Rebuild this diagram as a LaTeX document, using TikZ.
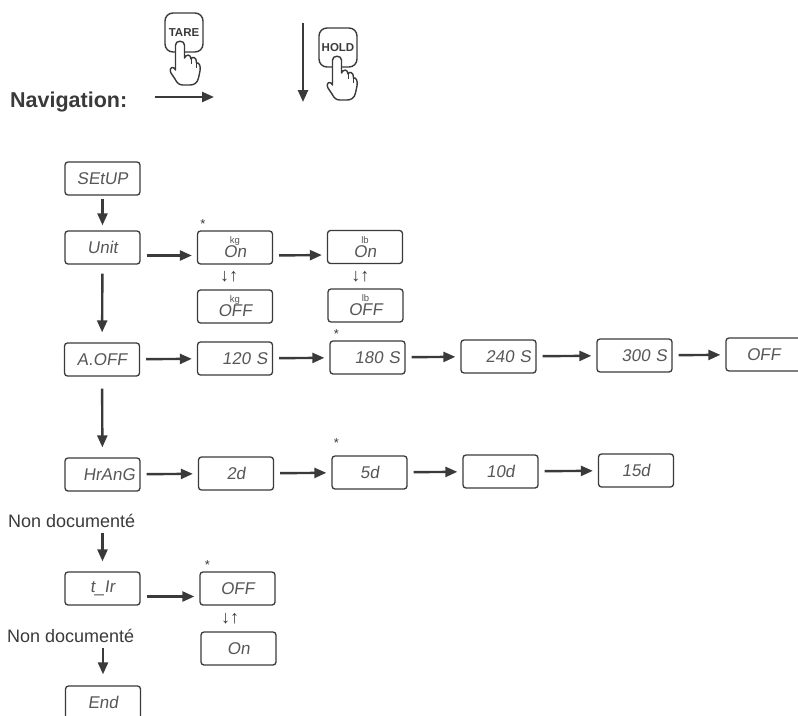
\documentclass[tikz,border=0pt]{standalone}
\usepackage{fontspec}
\setmainfont{Liberation Sans}
\newfontfamily\lcdfont[FakeSlant=0.15]{Liberation Sans}
\usetikzlibrary{arrows.meta,calc}

\definecolor{ink}{HTML}{3A3A3A}

\tikzstyle{disp} = [draw=ink, line width=1.3pt, rounded corners=3pt, minimum width=75pt, minimum height=33pt, inner sep=4pt, text=ink!85, font={\lcdfont\fontsize{17}{17}\selectfont}]
\tikzstyle{dispr} = [disp, text width=65pt, align=right]
\tikzstyle{dispu} = [disp, align=center, inner sep=1pt]
\tikzstyle{flow} = [draw=ink, line width=2.4pt, shorten <=6pt, shorten >=5pt, -{Triangle[length=12pt,width=10pt]}]
\tikzstyle{star} = [inner sep=0pt, text=ink, font=\fontsize{13}{13}\selectfont]
\tikzstyle{note} = [inner sep=0pt, anchor=base west, text=ink, font=\fontsize{18}{18}\selectfont]
\tikzstyle{swap} = [inner sep=0pt, text=ink, font=\bfseries\fontsize{18}{18}\selectfont]
\tikzstyle{button} = [draw=ink, line width=1.4pt, rounded corners=8pt, minimum width=38pt, minimum height=39pt, inner sep=0pt, text=ink, font=\bfseries\fontsize{11.5}{11.5}\selectfont]

% small unit sign over the value
\newcommand{\unitmark}[1]{{\rmfamily\fontsize{9.5}{9.5}\selectfont #1}\\[-3pt]}

% pointing hand, finger tip at #1
\newcommand{\hand}[1]{%
  \begin{scope}[shift={#1}]
    \filldraw[fill=white, draw=ink, line width=1.4pt, line join=round]
      (-4.5,28) -- (-4.5,3) .. controls (-4.5,-2) and (4.5,-2) .. (4.5,3) -- (4.5,16)
      .. controls (6,12) and (11,12) .. (11,17)
      .. controls (12,14) and (17,15) .. (16.5,21)
      .. controls (19,20) and (21,24) .. (20,29)
      -- (18.5,36) .. controls (17.5,41) and (14,43) .. (10,43) -- (3,43)
      .. controls (-1,43) and (-3,41) .. (-5,37)
      -- (-9,31) .. controls (-11,28) and (-9,24) .. (-6,26) -- cycle;
    \draw[ink, line width=1pt] (11,17) -- (11,22) (16.5,21) -- (16.5,26);
  \end{scope}}

\begin{document}
\begin{tikzpicture}[x=1pt,y=-1pt]
	\path[use as bounding box] (0,0) rectangle (798,715);
	\clip (0,0) rectangle (798,715);

	% navigation keys
	\node[button] (tare) at (184,32.5) {TARE};
	\hand{(180,42)}
	\node[button] (hold) at (338,47.5) {HOLD};
	\hand{(337,57)}
	\node[inner sep=0pt, anchor=base west, text=ink, font=\bfseries\fontsize{21.5}{21.5}\selectfont] (navlabel) at (10,107) {Navigation:};
	\coordinate (nr0) at (155,97);
	\coordinate (nr1) at (214,97);
	\coordinate (nd0) at (303,23);
	\coordinate (nd1) at (303,102);
	\draw[flow, shorten <=0pt, shorten >=0pt] (nr0) -- (nr1);
	\draw[flow, shorten <=0pt, shorten >=0pt] (nd0) -- (nd1);

	% menu
	\node[disp] (setup) at (102.5,178.5) {SEtUP};
	\node[disp] (unit) at (102.5,247.5) {Unit};
	\node[dispu] (kgon) at (235,247.5) {\unitmark{kg}On};
	\node[dispu] (kgoff) at (235,306.5) {\unitmark{kg}OFF};
	\node[dispu] (lbon) at (365,247) {\unitmark{lb}On};
	\node[dispu] (lboff) at (365.5,305.5) {\unitmark{lb}OFF};
	\node[disp] (aoff) at (102,359.5) {A.OFF};
	\node[dispr] (s120) at (235,358.5) {120 S};
	\node[dispr] (s180) at (367.5,357.5) {180 S};
	\node[dispr] (s240) at (498.5,356.5) {240 S};
	\node[dispr] (s300) at (634.5,355.5) {300 S};
	\node[disp] (aoffno) at (763.5,354.5) {OFF};
	\node[dispr] (hrang) at (102.5,474.5) {HrAnG};
	\node[disp] (d2) at (236,473.5) {2d};
	\node[disp] (d5) at (369.5,472.5) {5d};
	\node[disp] (d10) at (500.5,471.5) {10d};
	\node[disp] (d15) at (636,470.5) {15d};
	\node[note] (nodoc1) at (8,527) {Non documenté};
	\node[disp] (tir) at (102.5,588.5) {t\_Ir};
	\node[disp] (tiroff) at (237.5,588.5) {OFF};
	\node[disp] (tiron) at (238.5,648.5) {On};
	\node[note] (nodoc2) at (7,642) {Non documenté};
	\node[disp] (menuend) at (103,702.5) {End};

	% default marks
	\node[star] at ([xshift=6pt,yshift=6pt]kgon.north west) {*};
	\node[star] at ([xshift=7pt,yshift=6pt]s180.north west) {*};
	\node[star] at ([xshift=5pt,yshift=12pt]d5.north west) {*};
	\node[star] at ([xshift=8pt,yshift=6pt]tiroff.north west) {*};

	\node[swap] at ([xshift=-6pt]$(kgon)!0.5!(kgoff)$) {↓↑};
	\node[swap] at ([xshift=-5pt]$(lbon)!0.5!(lboff)$) {↓↑};
	\node[swap] at ([xshift=-8pt]$(tiroff)!0.5!(tiron)$) {↓↑};

	\draw[flow, shorten <=3pt] (setup) -- (unit);
	\draw[flow, shorten <=9pt, shorten >=10pt] (unit) -- (aoff);
	\draw[flow, shorten <=12pt, shorten >=10pt] (aoff) -- (hrang);
	\draw[flow, shorten <=6pt, shorten >=10pt] (nodoc1.south -| tir.north) -- (tir);
	\draw[flow, shorten <=6pt, shorten >=11pt] (nodoc2.south -| menuend.north) -- (menuend);

	\draw[flow] ([yshift=-8pt]unit.east) -- ([yshift=-8pt]kgon.west);
	\draw[flow] ([yshift=-8pt]kgon.east) -- ([yshift=-8pt]lbon.west);
	\draw[flow] (aoff) -- (s120);
	\draw[flow] (s120) -- (s180);
	\draw[flow] (s180) -- (s240);
	\draw[flow] (s240) -- (s300);
	\draw[flow] (s300) -- (aoffno);
	\draw[flow] (hrang) -- (d2);
	\draw[flow] (d2) -- (d5);
	\draw[flow] (d5) -- (d10);
	\draw[flow] (d10) -- (d15);
	\draw[flow] ([yshift=-8pt]tir.east) -- ([yshift=-8pt]tiroff.west);
\end{tikzpicture}
\end{document}
